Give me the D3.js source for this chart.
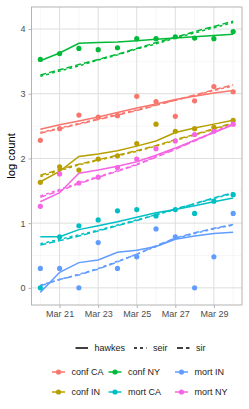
<!DOCTYPE html>
<html>
<head>
<meta charset="utf-8">
<script src="https://cdn.jsdelivr.net/npm/d3@7"></script>
<style>
  body { margin: 0; background: #fff; }
  svg text { font-family: "Liberation Sans", Arial, sans-serif; }
  .tick line { stroke: #b3b3b3; }
  .domain { display: none; }
</style>
</head>
<body>
<div id="chart"></div>
<script>
// dates of the observations
var days = ["2020-03-20", "2020-03-21", "2020-03-22", "2020-03-23", "2020-03-24", "2020-03-25",
            "2020-03-26", "2020-03-27", "2020-03-28", "2020-03-29", "2020-03-30"];
var xTicks = ["2020-03-21", "2020-03-23", "2020-03-25", "2020-03-27", "2020-03-29"];
var yTicks = [0, 1, 2, 3, 4];

var seriesNames = ["conf CA", "conf IN", "conf NY", "mort CA", "mort IN", "mort NY"];
var modelNames = ["hawkes", "seir", "sir"];

// observed log counts
var confCA_obs = [2.28, 2.46, 2.67, 2.64, 2.66, 2.96, 2.88, 2.65, 2.89, 3.11, 3.03];
var confIN_obs = [1.63, 1.87, 1.82, 1.99, 2.04, 2.23, 2.53, 2.42, 2.46, 2.48, 2.59];
var confNY_obs = [3.53, 3.62, 3.70, 3.68, 3.71, 3.85, 3.85, 3.88, 3.86, 3.85, 3.96];
var mortCA_obs = [0.00, 0.79, 0.96, 1.05, 1.19, 1.21, 1.11, 1.21, 1.15, 1.34, 1.44];
var mortIN_obs = [0.30, 0.30, 0.00, 0.70, 0.30, 0.48, 0.91, 0.79, 0.00, 0.48, 1.15];
var mortNY_obs = [1.26, 1.76, 1.62, 1.71, 1.86, 1.99, 2.15, 2.27, 2.37, 2.42, 2.53];

// fitted curves
var confCA_hawkes = [2.45, 2.52, 2.58, 2.64, 2.71, 2.78, 2.84, 2.91, 2.96, 3.01, 3.05];
var confCA_seir   = [2.40, 2.47, 2.54, 2.61, 2.68, 2.75, 2.83, 2.90, 2.97, 3.05, 3.12];
var confCA_sir    = [2.39, 2.46, 2.53, 2.60, 2.67, 2.74, 2.82, 2.90, 2.98, 3.06, 3.14];

var confIN_hawkes = [1.64, 1.80, 2.03, 2.07, 2.12, 2.19, 2.27, 2.40, 2.47, 2.53, 2.59];
var confIN_seir   = [1.72, 1.81, 1.90, 1.97, 2.04, 2.11, 2.19, 2.28, 2.36, 2.45, 2.54];
var confIN_sir    = [1.74, 1.83, 1.91, 1.98, 2.05, 2.12, 2.20, 2.29, 2.37, 2.46, 2.55];

var confNY_hawkes = [3.51, 3.63, 3.78, 3.79, 3.80, 3.82, 3.84, 3.86, 3.88, 3.90, 3.92];
var confNY_seir   = [3.27, 3.35, 3.43, 3.52, 3.60, 3.69, 3.77, 3.86, 3.94, 4.02, 4.10];
var confNY_sir    = [3.29, 3.37, 3.45, 3.53, 3.61, 3.70, 3.79, 3.87, 3.96, 4.04, 4.12];

var mortCA_hawkes = [0.79, 0.79, 0.90, 0.96, 1.02, 1.09, 1.16, 1.21, 1.27, 1.33, 1.39];
var mortCA_seir   = [0.68, 0.75, 0.82, 0.89, 0.97, 1.05, 1.13, 1.21, 1.30, 1.38, 1.46];
var mortCA_sir    = [0.66, 0.73, 0.80, 0.88, 0.96, 1.04, 1.13, 1.22, 1.30, 1.39, 1.47];

var mortIN_hawkes = [-0.07, 0.24, 0.39, 0.43, 0.55, 0.58, 0.64, 0.75, 0.80, 0.84, 0.86];
var mortIN_seir   = [0.04, 0.13, 0.21, 0.30, 0.41, 0.52, 0.64, 0.76, 0.84, 0.91, 0.97];
var mortIN_sir    = [0.03, 0.13, 0.20, 0.29, 0.40, 0.52, 0.65, 0.77, 0.85, 0.92, 0.98];

var mortNY_hawkes = [1.33, 1.47, 1.77, 1.82, 1.88, 1.95, 2.05, 2.16, 2.28, 2.40, 2.52];
var mortNY_seir   = [1.42, 1.52, 1.62, 1.72, 1.81, 1.91, 2.03, 2.15, 2.28, 2.41, 2.53];
var mortNY_sir    = [1.40, 1.50, 1.61, 1.71, 1.80, 1.90, 2.02, 2.14, 2.27, 2.40, 2.54];

var colors = ["#F8766D", "#B79F00", "#00BA38", "#00BFC4", "#619CFF", "#F564E3"];

var observed = [confCA_obs, confIN_obs, confNY_obs, mortCA_obs, mortIN_obs, mortNY_obs];
var fits = [
  [confCA_hawkes, confCA_seir, confCA_sir],
  [confIN_hawkes, confIN_seir, confIN_sir],
  [confNY_hawkes, confNY_seir, confNY_sir],
  [mortCA_hawkes, mortCA_seir, mortCA_sir],
  [mortIN_hawkes, mortIN_seir, mortIN_sir],
  [mortNY_hawkes, mortNY_seir, mortNY_sir]
];

var svgWidth = 249, svgHeight = 409;
var margin = {top: 7, right: 7, bottom: 104, left: 31.5};
var width = svgWidth - margin.left - margin.right;
var height = svgHeight - margin.top - margin.bottom;

var parseDay = d3.utcParse("%Y-%m-%d");
var dates = days.map(parseDay);

var svg = d3.select("#chart").append("svg")
  .attr("width", svgWidth)
  .attr("height", svgHeight);

var chartGroup = svg.append("g")
  .attr("transform", `translate(${margin.left}, ${margin.top})`);

var x = d3.scaleUtc()
  .domain([d3.utcHour.offset(dates[0], -11), d3.utcHour.offset(dates[dates.length - 1], 11)])
  .range([0, width]);

var y = d3.scaleLinear()
  .domain([-0.265, 4.34])
  .range([height, 0]);

// grid
var minorY = [-0.5, 0.5, 1.5, 2.5, 3.5].filter(v => v > y.domain()[0]);
chartGroup.selectAll(".ygridMinor").data(minorY).enter().append("line")
  .attr("x1", 0).attr("x2", width)
  .attr("y1", d => y(d)).attr("y2", d => y(d))
  .attr("stroke", "#ededed").attr("stroke-width", 0.5);
chartGroup.selectAll(".xgridMinor").data(dates.filter((d, i) => i % 2 == 0)).enter().append("line")
  .attr("x1", d => x(d)).attr("x2", d => x(d))
  .attr("y1", 0).attr("y2", height)
  .attr("stroke", "#ededed").attr("stroke-width", 0.5);
chartGroup.selectAll(".ygrid").data(yTicks).enter().append("line")
  .attr("x1", 0).attr("x2", width)
  .attr("y1", d => y(d)).attr("y2", d => y(d))
  .attr("stroke", "#dedede").attr("stroke-width", 1);
chartGroup.selectAll(".xgrid").data(xTicks.map(parseDay)).enter().append("line")
  .attr("x1", d => x(d)).attr("x2", d => x(d))
  .attr("y1", 0).attr("y2", height)
  .attr("stroke", "#dedede").attr("stroke-width", 1);

// axes
var xAxis = d3.axisBottom(x)
  .tickValues(xTicks.map(parseDay))
  .tickFormat(d3.utcFormat("%b %-d"))
  .tickSize(3).tickPadding(3);
var yAxis = d3.axisLeft(y)
  .tickValues(yTicks)
  .tickFormat(d3.format("d"))
  .tickSize(3).tickPadding(3);

chartGroup.append("g")
  .attr("transform", `translate(0,${height})`)
  .call(xAxis)
  .selectAll("text").attr("font-size", "9px").attr("fill", "#4d4d4d");

chartGroup.append("g")
  .call(yAxis)
  .selectAll("text").attr("font-size", "9px").attr("fill", "#4d4d4d");

chartGroup.selectAll("text").attr("font-family", null);

// lines
var dashes = [null, "3,3", "6,3"];
var line = d3.line()
  .x((d, i) => x(dates[i]))
  .y(d => y(d));

fits.forEach(function(group, s) {
  group.forEach(function(vals, m) {
    chartGroup.append("path")
      .datum(vals)
      .attr("d", line)
      .attr("fill", "none")
      .attr("stroke", colors[s])
      .attr("stroke-width", 1.5)
      .attr("stroke-dasharray", dashes[m]);
  });
});

// points
observed.forEach(function(vals, s) {
  chartGroup.selectAll(null)
    .data(vals)
    .enter()
    .append("circle")
    .attr("cx", (d, i) => x(dates[i]))
    .attr("cy", d => y(d))
    .attr("r", 2.6)
    .attr("fill", colors[s]);
});

// panel border
chartGroup.append("rect")
  .attr("width", width).attr("height", height)
  .attr("fill", "none").attr("stroke", "#b3b3b3").attr("stroke-width", 1);

// axis title
svg.append("text")
  .attr("transform", `translate(15, ${margin.top + height / 2}) rotate(-90)`)
  .attr("text-anchor", "middle")
  .attr("font-size", "11.25px")
  .attr("fill", "#000")
  .text("log count");

// linetype legend
var lt = svg.append("g").attr("transform", "translate(0, 348)");
var ltX = [75.5, 134, 177];
modelNames.forEach(function(name, m) {
  lt.append("line")
    .attr("x1", ltX[m]).attr("x2", ltX[m] + 12.5)
    .attr("y1", 0).attr("y2", 0)
    .attr("stroke", "#000").attr("stroke-width", 1.5)
    .attr("stroke-dasharray", dashes[m]);
  lt.append("text")
    .attr("x", ltX[m] + 19).attr("y", 3.2)
    .attr("font-size", "9px")
    .attr("fill", "#1a1a1a")
    .text(name);
});

// colour legend
var colX = [52, 108.5, 175];
var rowY = [372, 392];
seriesNames.forEach(function(name, s) {
  var cx = colX[Math.floor(s / 2)], cy = rowY[s % 2];
  var g = svg.append("g").attr("transform", `translate(${cx}, ${cy})`);
  g.append("line").attr("x1", 0).attr("x2", 13).attr("y1", 0).attr("y2", 0)
    .attr("stroke", colors[s]).attr("stroke-width", 1.5);
  g.append("circle").attr("cx", 6.5).attr("cy", 0).attr("r", 2.6).attr("fill", colors[s]);
  g.append("text")
    .attr("x", 19.5).attr("y", 3.2)
    .attr("font-size", "9px")
    .attr("fill", "#1a1a1a")
    .text(name);
});
</script>
</body>
</html>
